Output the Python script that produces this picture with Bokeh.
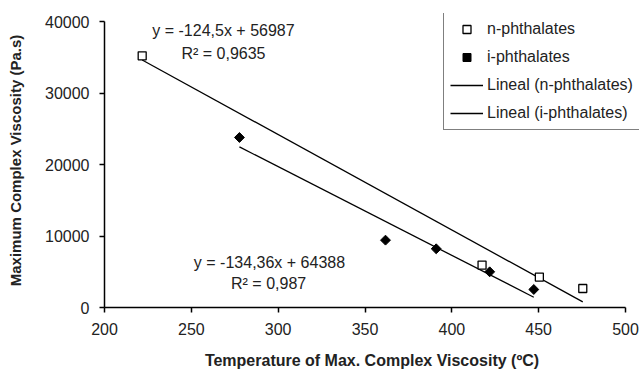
import numpy as np
from bokeh.plotting import figure
from bokeh.models import Range1d, Label, Legend, LegendItem, BasicTickFormatter, FixedTicker
from bokeh.embed import file_html
from bokeh.resources import INLINE

# data
n_x = [221.7, 417.4, 450.4, 475.4]
n_y = [35200, 5930, 4250, 2660]
i_x = [277.7, 361.8, 391.0, 421.8, 447.2]
i_y = [23780, 9420, 8210, 4990, 2520]
x_ticks = [200, 250, 300, 350, 400, 450, 500]
y_ticks = [0, 10000, 20000, 30000, 40000]
eq_texts = ["y = -124,5x + 56987", "R² = 0,9635", "y = -134,36x + 64388", "R² = 0,987"]
eq_x = [268.5, 268.5, 295.0, 294.5]
eq_y = [38700, 35500, 6250, 3400]

FONT = "Liberation Sans"

# the frame is a little larger than the axes so that the legend box (which
# sticks out past the axis ends in the original) is not clipped
X_END = 200 + 535 * 300 / 521
Y_END = 294 * 40000 / 286

p = figure(width=639, height=372, output_backend="svg", toolbar_location=None,
           x_range=Range1d(200, X_END), y_range=Range1d(0, Y_END),
           min_border_left=104, min_border_right=0, min_border_top=13, min_border_bottom=65)
p.outline_line_color = None
p.grid.grid_line_color = None

for ax in (p.xaxis[0], p.yaxis[0]):
    ax.axis_line_color = "black"
    ax.axis_line_width = 1.5
    ax.major_tick_line_color = "black"
    ax.major_tick_line_width = 1.5
    ax.major_tick_out = 5
    ax.major_tick_in = 0
    ax.minor_tick_line_color = None
    ax.major_label_text_font = FONT
    ax.major_label_text_font_size = "16px"
    ax.major_label_text_color = "#222222"
    ax.axis_label_text_font = FONT
    ax.axis_label_text_font_style = "bold"
    ax.axis_label_text_color = "#222222"

p.xaxis.bounds = (x_ticks[0], x_ticks[-1])
p.yaxis.bounds = (y_ticks[0], y_ticks[-1])
p.xaxis.axis_label_text_font_size = "16px"
p.yaxis.axis_label_text_font_size = "15px"
p.xaxis.ticker = FixedTicker(ticks=x_ticks)
p.yaxis.ticker = FixedTicker(ticks=y_ticks)
p.yaxis.formatter = BasicTickFormatter(use_scientific=False)
p.xaxis.major_label_standoff = 10
p.yaxis.major_label_standoff = 10
p.xaxis.axis_label = "Temperature of Max. Complex Viscosity (ºC)"
p.yaxis.axis_label = "Maximum Complex Viscosity (Pa.s)"
p.xaxis.axis_label_standoff = 14
p.yaxis.axis_label_standoff = 18

# trend lines (least squares fits of each series)
cn = np.polyfit(n_x, n_y, 1)
ci = np.polyfit(i_x, i_y, 1)
nlx = [min(n_x), max(n_x)]
ilx = [min(i_x), max(i_x)]
ln = p.line(nlx, list(np.polyval(cn, nlx)), line_color="black", line_width=1.3)
li = p.line(ilx, list(np.polyval(ci, ilx)), line_color="black", line_width=1.3)

rn = p.scatter(n_x, n_y, marker="square", size=8, fill_color="white", line_color="black", line_width=1.3)
ri = p.scatter(i_x, i_y, marker="square", angle=np.pi / 4, size=7, fill_color="black", line_color="black")

for t, x, y in zip(eq_texts, eq_x, eq_y):
    p.add_layout(Label(x=x, y=y, text=t, text_align="center", text_baseline="middle",
                       text_font=FONT, text_font_size="16px", text_color="#222222"))

legend = Legend(items=[
    LegendItem(label="n-phthalates", renderers=[rn]),
    LegendItem(label="i-phthalates", renderers=[ri]),
    LegendItem(label="Lineal (n-phthalates)", renderers=[ln]),
    LegendItem(label="Lineal (i-phthalates)", renderers=[li]),
], location=(339, 177))
legend.border_line_color = "black"
legend.border_line_width = 1.3
legend.background_fill_alpha = 1
legend.label_text_font = FONT
legend.label_text_font_size = "16px"
legend.label_text_color = "#222222"
legend.glyph_width = 33
legend.glyph_height = 20
legend.label_height = 20
legend.label_standoff = 4
legend.spacing = 8
legend.padding = 6
legend.margin = 0
p.add_layout(legend, "center")

open("out.html", "w").write(file_html(p, INLINE))
